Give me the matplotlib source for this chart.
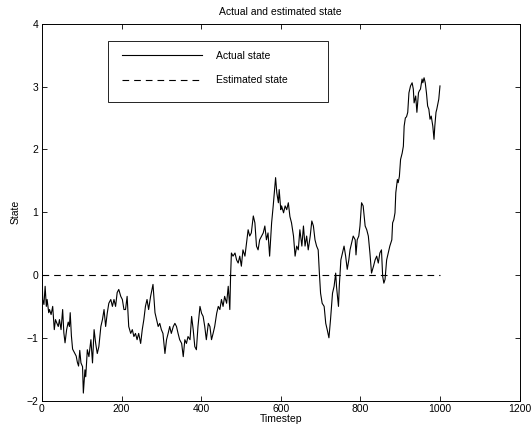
import matplotlib
matplotlib.use("Agg")
import matplotlib.pyplot as plt
from matplotlib.patches import Rectangle

# values
timestep = [
    0, 2, 5, 8, 11, 13, 17, 19, 23, 27,
    31, 34, 37, 41, 44, 48, 52, 55, 58, 62,
    66, 69, 71, 74, 77, 82, 86, 89, 92,
    95, 98, 102, 104, 108, 110, 114, 118, 123, 127,
    131, 135, 139, 143, 148, 152, 156, 160, 164, 168,
    173, 177, 181, 185, 189, 193, 198, 202, 206, 210,
    214, 218, 223, 227, 231, 235, 239, 243, 248, 252,
    256, 260, 264, 268, 273, 279, 284, 288,
    292, 296, 300, 304, 309, 313, 317, 321, 325, 330,
    334, 338, 342, 346, 351, 355, 359, 363, 367, 372,
    376, 380, 384, 388, 392, 397, 401, 405, 409, 413,
    418, 422, 426, 430, 434, 439, 443, 447, 451, 455,
    459, 464, 468, 472, 474, 476, 480, 485, 489, 493,
    497, 501, 505, 510, 514, 518, 522, 526, 531, 535,
    539, 543, 547, 552, 556, 560, 564, 568, 572,
    577, 581, 587, 590, 594, 596, 600, 602, 607, 611,
    615, 619, 623, 627, 632, 636, 640, 644, 648, 653,
    657, 661, 665, 669, 674, 678, 682, 686, 690, 694,
    697, 700, 704, 709, 713, 717, 721, 725, 730, 734,
    738, 740, 745, 747, 751, 755, 759, 763, 767, 771,
    774, 778, 782, 787, 789, 792, 796, 799, 803, 807,
    812, 816, 820, 824, 828, 833, 837, 841, 845,
    849, 853, 856, 859, 862, 866, 870, 874, 879, 881,
    884, 887, 889, 893, 895, 898, 901, 905, 908, 910,
    913, 916, 919, 922, 926, 930, 933, 935, 939, 942,
    946, 948, 951, 955, 957, 960, 963, 966, 969, 972,
    975, 978, 982, 985, 987, 990, 992, 995, 997, 1000,
]
actual_state = [
    0.05, -0.39, -0.47, -0.18, -0.50, -0.39, -0.60, -0.55, -0.63, -0.50,
    -0.87, -0.71, -0.76, -0.82, -0.71, -0.87, -0.55, -0.92, -1.08, -0.87,
    -0.75, -0.82, -0.60, -0.97, -1.18, -1.24, -1.29, -1.39, -1.45,
    -1.20, -1.40, -1.46, -1.88, -1.51, -1.62, -1.19, -1.30, -1.03, -1.40,
    -0.87, -1.09, -1.25, -1.14, -0.82, -0.71, -0.55, -0.82, -0.61, -0.45,
    -0.39, -0.50, -0.39, -0.50, -0.28, -0.23, -0.34, -0.39, -0.55, -0.55,
    -0.34, -0.82, -0.93, -0.87, -0.98, -0.93, -1.03, -0.93, -1.09, -0.87,
    -0.71, -0.50, -0.39, -0.55, -0.34, -0.15, -0.60, -0.71,
    -0.82, -0.77, -0.87, -0.93, -1.25, -1.03, -0.93, -0.82, -0.93, -0.82,
    -0.77, -0.82, -0.93, -1.03, -1.09, -1.30, -1.03, -1.09, -0.98, -1.03,
    -0.66, -0.87, -1.14, -1.19, -0.82, -0.50, -0.61, -0.66, -0.82, -1.03,
    -0.77, -0.82, -1.03, -0.93, -0.82, -0.61, -0.50, -0.55, -0.39, -0.50,
    -0.34, -0.45, -0.18, -0.55, 0.00, 0.35, 0.30, 0.35, 0.24, 0.19,
    0.30, 0.14, 0.40, 0.30, 0.51, 0.72, 0.62, 0.67, 0.94, 0.83,
    0.46, 0.40, 0.56, 0.62, 0.67, 0.78, 0.56, 0.67, 0.30,
    0.83, 1.10, 1.55, 1.31, 1.15, 1.36, 1.04, 1.10, 0.99, 1.10,
    1.04, 1.15, 0.93, 0.83, 0.62, 0.30, 0.46, 0.40, 0.72, 0.46,
    0.78, 0.46, 0.62, 0.40, 0.62, 0.86, 0.78, 0.56, 0.46, 0.40,
    0.03, -0.29, -0.45, -0.50, -0.77, -0.88, -1.00, -0.71, -0.29, -0.18,
    0.03, -0.18, -0.50, -0.18, 0.24, 0.35, 0.46, 0.30, 0.09, 0.24,
    0.40, 0.51, 0.62, 0.56, 0.32, 0.56, 0.62, 0.78, 1.15, 1.10,
    0.78, 0.72, 0.62, 0.35, 0.03, 0.14, 0.24, 0.30, 0.19,
    0.35, 0.40, -0.02, -0.13, -0.07, 0.24, 0.35, 0.46, 0.56, 0.83,
    0.88, 0.99, 1.31, 1.52, 1.47, 1.57, 1.84, 1.94, 2.05, 2.37,
    2.50, 2.52, 2.59, 2.90, 3.01, 3.06, 2.96, 2.74, 2.85, 2.59,
    2.90, 2.93, 2.96, 3.12, 3.06, 3.14, 3.06, 2.90, 2.69, 2.64,
    2.48, 2.53, 2.37, 2.16, 2.37, 2.59, 2.64, 2.74, 2.80, 3.01,
]
est_timestep = [0, 1000]
est_state = [0, 0]

x_ticks = [0, 200, 400, 600, 800, 1000, 1200]
y_ticks = [-2, -1, 0, 1, 2, 3, 4]

plt.rcParams['font.family'] = ['Liberation Sans', 'DejaVu Sans']
plt.rcParams['font.size'] = 7.5

fig = plt.figure(figsize=(5.31, 4.28), dpi=100)
ax = fig.add_axes([0.079, 0.064, 0.8995, 0.8805])

ax.plot(timestep, actual_state, color='black', linewidth=0.8, label='Actual state')
ax.plot(est_timestep, est_state, color='black', linewidth=0.8,
        linestyle=(0, (6, 4.5)), label='Estimated state')

ax.set_xlim(0, 1200)
ax.set_ylim(-2, 4)
ax.set_xticks(x_ticks)
ax.set_yticks(y_ticks)
ax.tick_params(direction='in', top=True, right=True, length=3.5, width=0.6, pad=2.5)
for s in ax.spines.values():
    s.set_linewidth(0.7)

ax.set_title('Actual and estimated state', fontsize=7.5, pad=6.5)
ax.set_xlabel('Timestep', labelpad=0)
ax.set_ylabel('State', labelpad=4)

# matlab style legend box, a bit taller than the entries need
ax.add_patch(Rectangle((0.1376, 0.7933), 0.461, 0.1611, transform=ax.transAxes,
                       facecolor='white', edgecolor='black', linewidth=0.6, zorder=4))
leg = ax.legend(loc='upper left', bbox_to_anchor=(0.1669, 0.928),
                handlelength=7.68, handletextpad=1.34, labelspacing=1.4,
                borderpad=0, borderaxespad=0, frameon=False)
leg.set_zorder(5)

fig.savefig('out.png', dpi=100)
